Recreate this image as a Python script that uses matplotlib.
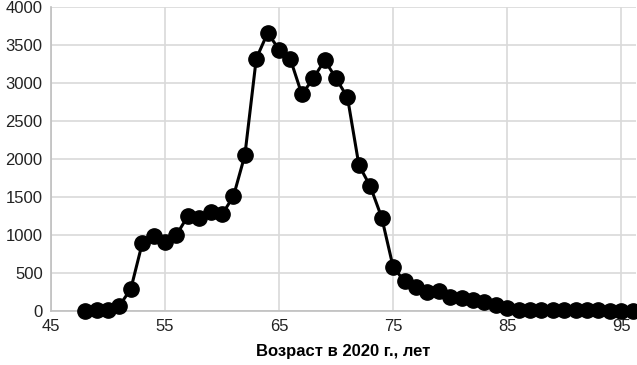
import matplotlib
matplotlib.use("Agg")
import matplotlib.pyplot as plt
from matplotlib.ticker import MultipleLocator

ages = list(range(48, 97))
counts = [0, 10, 15, 70, 290, 890, 990, 910, 1000, 1250, 1220, 1300, 1270, 1510,
          2050, 3320, 3660, 3440, 3310, 2850, 3060, 3300, 3060, 2810, 1920, 1640,
          1230, 580, 390, 310, 250, 260, 180, 175, 150, 120, 75, 45, 15, 15, 15,
          12, 10, 10, 8, 8, 5, 5, 5]
x_ticks = [45, 55, 65, 75, 85, 95]
x_label = "Возраст в 2020 г., лет"

plt.rcParams['font.family'] = ['Liberation Sans', 'DejaVu Sans']

fig = plt.figure(figsize=(6.37, 3.65), dpi=100)
ax = fig.add_axes([51/637, 1 - 311/365, 585/637, 304/365])

ax.plot(ages, counts, color="black", lw=2.2, marker="o", markersize=11, zorder=3, clip_on=False)

ax.set_xlim(45, 96.3)
ax.set_ylim(0, 4000)
ax.set_xticks(x_ticks)
ax.yaxis.set_major_locator(MultipleLocator(500))
ax.grid(True, color="#d9d9d9", lw=1.2)
ax.set_axisbelow(True)
for s in ["top", "right"]:
    ax.spines[s].set_visible(False)
for s in ["left", "bottom"]:
    ax.spines[s].set_color("#bfbfbf")
    ax.spines[s].set_linewidth(1.2)
ax.tick_params(length=0, labelsize=12, colors="#222222", pad=6)
ax.set_xlabel(x_label, fontsize=12, fontweight="bold", labelpad=7)

fig.savefig("out.png", dpi=100)
